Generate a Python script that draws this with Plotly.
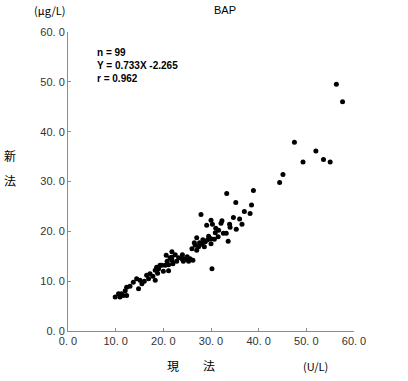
import plotly.graph_objects as go

# Data: (現法 x, 新法 y)
x_vals = [56.3, 57.6, 47.5, 52.0, 49.3, 53.6, 55.0, 45.1, 44.4, 38.9,
          38.5, 37.0, 38.2, 33.3, 35.2, 27.9, 34.7, 30.0, 32.3, 29.1,
          30.3, 32.1, 33.9, 36.5, 31.0, 31.6, 35.3, 30.9, 32.6, 33.2,
          27.0, 28.3, 29.3, 30.0, 30.7, 33.6, 26.5, 27.6, 28.8, 26.7,
          28.1, 30.0, 27.0, 27.4, 30.2, 21.8, 20.6, 21.4, 23.2, 23.9,
          24.6, 25.6, 26.2, 21.8, 21.1, 20.4, 19.3, 18.6, 18.3, 21.8,
          19.7, 17.2, 16.5, 18.3, 16.9, 14.4, 15.1, 13.7, 14.8, 12.3,
          12.0, 12.3, 11.6, 10.6, 9.9, 10.9, 21.1, 22.5, 22.8, 24.2,
          25.0, 19.0, 20.0, 17.8, 16.0, 13.0, 11.2, 20.8, 29.5, 31.5,
          28.6, 26.0, 34.0, 36.0, 24.0, 25.3, 22.0, 18.8, 15.5]
y_vals = [49.5, 46.0, 37.9, 36.1, 33.9, 34.4, 33.9, 31.4, 29.8, 28.2,
          25.3, 24.0, 23.6, 27.6, 25.8, 23.4, 22.8, 22.2, 22.1, 21.2,
          21.4, 21.6, 21.4, 21.4, 20.6, 20.2, 20.4, 19.7, 19.6, 19.6,
          18.7, 18.3, 18.3, 18.5, 18.4, 18.0, 17.7, 17.7, 17.9, 17.2,
          17.4, 17.5, 16.2, 16.9, 12.5, 15.9, 15.2, 14.7, 14.7, 14.5,
          14.5, 14.5, 14.2, 14.2, 13.3, 13.2, 13.2, 12.8, 12.2, 14.8,
          13.2, 11.5, 11.2, 10.2, 10.5, 10.5, 10.2, 9.8, 8.5, 8.8,
          8.1, 7.1, 7.1, 7.5, 6.8, 6.8, 12.1, 15.3, 14.0, 14.0,
          14.9, 12.5, 12.0, 11.0, 10.0, 9.0, 7.5, 14.0, 19.0, 18.9,
          16.9, 16.5, 20.8, 22.5, 15.3, 14.0, 13.5, 11.6, 9.5]

tick_vals = [0, 10, 20, 30, 40, 50, 60]
tick_text = ["0. 0", "10. 0", "20. 0", "30. 0", "40. 0", "50. 0", "60. 0"]

stats_text = "n = 99<br>Y = 0.733X -2.265<br>r = 0.962"

fig = go.Figure()
fig.add_trace(go.Scatter(
    x=x_vals, y=y_vals, mode="markers",
    marker=dict(color="black", size=5, line=dict(width=0)),
    showlegend=False, cliponaxis=False,
))

axis_common = dict(
    range=[0, 60], tickmode="array", tickvals=tick_vals, ticktext=tick_text,
    showgrid=False, zeroline=False, showline=True, linecolor="#8c8c8c",
    linewidth=1, ticks="inside", ticklen=3, tickcolor="#8c8c8c",
    tickfont=dict(family="Liberation Sans, Arial, sans-serif", size=11, color="#333333"),
)

fig.update_layout(
    width=408, height=381,
    margin=dict(l=68, r=54, t=32, b=50),
    paper_bgcolor="white", plot_bgcolor="white",
    xaxis=dict(**axis_common),
    yaxis=dict(**axis_common),
    font=dict(family="Noto Sans CJK JP, sans-serif", color="black"),
)

ann = [
    dict(text="BAP", x=0.549, y=1.074, xanchor="center", yanchor="middle",
         font=dict(size=11, family="Liberation Sans, Arial, sans-serif")),
    dict(text="(μg/L)", x=-0.063, y=1.074, xanchor="center", yanchor="middle",
         font=dict(size=11, family="Noto Sans CJK JP, sans-serif")),
    dict(text="新", x=-0.203, y=0.588, xanchor="center", yanchor="middle",
         font=dict(size=12, family="Noto Sans CJK JP, sans-serif")),
    dict(text="法", x=-0.203, y=0.504, xanchor="center", yanchor="middle",
         font=dict(size=12, family="Noto Sans CJK JP, sans-serif")),
    dict(text="現　　法", x=0.43, y=-0.116, xanchor="center", yanchor="middle",
         font=dict(size=12, family="Noto Sans CJK JP, sans-serif")),
    dict(text="(U/L)", x=0.864, y=-0.116, xanchor="center", yanchor="middle",
         font=dict(size=11, family="Noto Sans CJK JP, sans-serif")),
    dict(text="<b>" + stats_text + "</b>", x=0.094, y=0.956, xanchor="left",
         yanchor="top", align="left",
         font=dict(size=10, family="Liberation Sans, Arial, sans-serif")),
]
for a in ann:
    a.update(xref="paper", yref="paper", showarrow=False)
    fig.add_annotation(**a)

fig.write_html("out.html", config={"displayModeBar": False},
               post_script="document.body.style.margin='0';")
